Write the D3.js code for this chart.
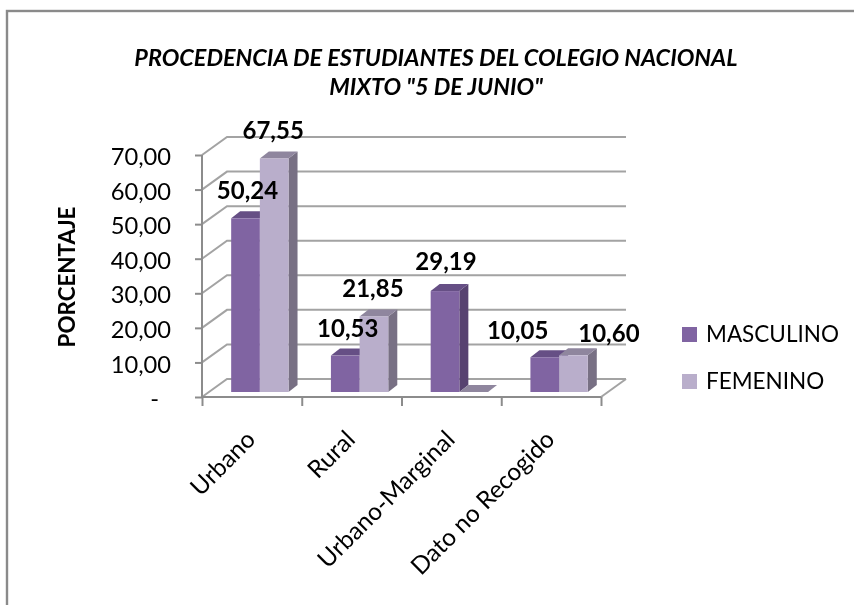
<!DOCTYPE html>
<html><head><meta charset="utf-8">
<script src="https://cdnjs.cloudflare.com/ajax/libs/d3/7.8.5/d3.min.js"></script>
<style>html,body{margin:0;padding:0;background:#fff;overflow:hidden}svg{display:block;filter:blur(0.4px)}text{font-family:Lato,"Open Sans",sans-serif;fill:#000}</style>
</head><body><svg id="c" width="854" height="605"></svg>
<script>
const categories = ["Urbano","Rural","Urbano-Marginal","Dato no Recogido"];
const seriesNames = ["MASCULINO","FEMENINO"];
const masculino = [50.24,10.53,29.19,10.05];
const femenino = [67.55,21.85,0,10.60];
const yTicks = [0,10,20,30,40,50,60,70];
const titleLines = ["PROCEDENCIA DE ESTUDIANTES DEL COLEGIO NACIONAL","MIXTO \"5 DE JUNIO\""];
const yTitle = "PORCENTAJE";
const colors = {
  MASCULINO:{front:"#8064a2",top:"#664f85",side:"#574270"},
  FEMENINO:{front:"#b9aecb",top:"#8f869e",side:"#787084"}
};
// label offsets from each bar's front-top centre
const labelNudge = {MASCULINO:[[2,-19],[2.5,-18.6],[1,-21],[-27,-18]],FEMENINO:[[-1,-19.5],[-1,-19.5],null,[35.5,-13.4]]};

const svg = d3.select("#c");
svg.append("rect").attr("x",7).attr("y",11).attr("width",900).attr("height",650).attr("fill","#fff").attr("stroke","#8a8a8a").attr("stroke-width",2.4);
const fmt = v => v===0 ? "-" : d3.format(".2f")(v).replace(".",",");

const x = d3.scaleBand().domain(categories).range([202,601]);
const y = d3.scaleLinear().domain([0,70]).range([397,155]);
const depthX = 25, depthY = -18;
const grid = "#a3a3a3", axisC = "#8c8c8c";

const g = svg.append("g");
yTicks.forEach(t=>{
  g.append("path").attr("d",d3.line()([[x.range()[0],y(t)],[x.range()[0]+depthX,y(t)+depthY],[x.range()[1]+depthX,y(t)+depthY]]))
   .attr("fill","none").attr("stroke",grid).attr("stroke-width",2);
});
g.append("line").attr("x1",x.range()[1]).attr("y1",y(0)).attr("x2",x.range()[1]+depthX).attr("y2",y(0)+depthY).attr("stroke",grid).attr("stroke-width",2);

const yAxis = d3.axisLeft(y).tickValues(yTicks).tickFormat(fmt).tickSize(7).tickPadding(24);
const ya = svg.append("g").attr("transform","translate(202,0)").call(yAxis);
ya.selectAll("path,line").attr("stroke",axisC).attr("stroke-width",2);
ya.select(".domain").attr("d",`M0,${y(70)}V${y(0)}`);
ya.selectAll("text").attr("font-size",23.7).attr("font-family","Lato")
  .attr("transform",d=>`translate(${d===0?-12:0},2)`);

const xAxis = d3.axisBottom(d3.scaleLinear().domain([0,4]).range(x.range())).ticks(4).tickSize(9).tickFormat("");
const xa = svg.append("g").attr("transform",`translate(0,${y(0)})`).call(xAxis);
xa.selectAll("path,line").attr("stroke",axisC).attr("stroke-width",2);
xa.select(".domain").attr("d",`M${x.range()[0]},0H${x.range()[1]}`);

const bw = x.bandwidth()*0.2875, dx = 9, dy = -7, base = y(0)-5;
const scaleV = v => y(v)-5;
const leftPad = x.bandwidth()*0.2925;
seriesNames.forEach((name,si)=>{
  const vals = si===0 ? masculino : femenino;
  const c = colors[name];
  const bars = svg.append("g").selectAll("g").data(categories).join("g");
  bars.each(function(cat,i){
    const v = vals[i], xl = x(cat)+leftPad+si*bw, xr = xl+bw, t = scaleV(v), s = d3.select(this);
    s.append("path").attr("fill",c.side).attr("d",d3.line()([[xr,t],[xr+dx,t+dy],[xr+dx,base+dy],[xr,base]]));
    s.append("path").attr("fill",c.top).attr("d",d3.line()([[xl,t],[xl+dx,t+dy],[xr+dx,t+dy],[xr,t]]));
    s.append("rect").attr("x",xl).attr("y",t).attr("width",bw).attr("height",Math.max(0,base-t)).attr("fill",c.front);
  });
});
seriesNames.forEach((name,si)=>{
  const vals = si===0 ? masculino : femenino;
  categories.forEach((cat,i)=>{
    const nudge = labelNudge[name][i];
    if(!nudge) return;
    svg.append("text").attr("x",x(cat)+leftPad+si*bw+bw/2+nudge[0]).attr("y",scaleV(vals[i])+nudge[1])
      .attr("text-anchor","middle").attr("font-size",24).attr("font-weight",700).text(fmt(vals[i]));
  });
});
categories.forEach(cat=>{
  const cx = x(cat)+x.bandwidth()/2+5;
  svg.append("text").attr("transform",`translate(${cx},441) rotate(-45)`).attr("text-anchor","end")
    .attr("font-size",24.4).text(cat);
});
titleLines.forEach((t,i)=>svg.append("text").attr("x",436).attr("y",66+i*29).attr("text-anchor","middle")
  .attr("font-size",23.4).attr("font-weight",700).attr("font-style","italic").text(t));
svg.append("text").attr("transform","translate(75,277) rotate(-90)").attr("text-anchor","middle")
  .attr("font-size",22.4).attr("font-weight",700).text(yTitle);
seriesNames.forEach((n,i)=>{
  svg.append("rect").attr("x",682).attr("y",327+i*47).attr("width",15).attr("height",15).attr("fill",colors[n].front);
  svg.append("text").attr("x",706).attr("y",342+i*47).attr("font-size",22.5).text(n);
});
</script></body></html>
